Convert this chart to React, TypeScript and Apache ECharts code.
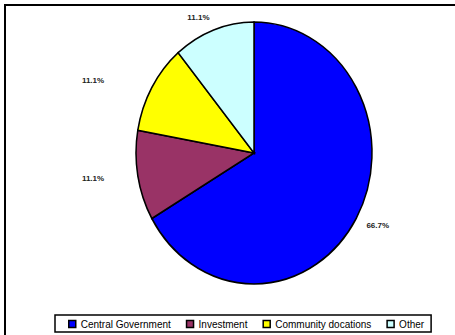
import React, { useEffect, useRef } from "react";
import * as echarts from "echarts";

const categories = ["Central Government", "Investment", "Community docations", "Other"];
const values = [6, 1, 1, 1];
const colors = ["#0000FF", "#993366", "#FFFF00", "#CCFFFF"];

const total = values.reduce((a, b) => a + b, 0);
const pctLabel = (v: number) => ((v / total) * 100).toFixed(1) + "%";

// layout of the (elliptical) pie
const CX = 254;
const CY = 153;
const RX = 118;
const RY = 131;
const LABEL_K = 1.1;
const SIDE_COLUMN_K = 1.27;

export default function App() {
  const ref = useRef<HTMLDivElement>(null);

  useEffect(() => {
    if (!ref.current) return;
    const chart = echarts.init(ref.current, undefined, { renderer: "svg" });

    const series = categories.map((name, idx) => ({
      type: "custom",
      name,
      coordinateSystem: "none",
      data: [[idx, values[idx]]],
      itemStyle: { color: colors[idx], borderColor: "#000", borderWidth: 1.5 },
      renderItem: (params: any, api: any) => {
        const i = api.value(0);
        let before = 0;
        for (let k = 0; k < i; k++) before += values[k];
        const f0 = before / total;
        const f1 = (before + values[i]) / total;
        const a0 = -Math.PI / 2 + f0 * Math.PI * 2;
        const a1 = -Math.PI / 2 + f1 * Math.PI * 2;
        const mid = ((f0 + f1) / 2) * Math.PI * 2;
        const s = Math.sin(mid);
        const c = Math.cos(mid);
        let lx = CX + RX * LABEL_K * s;
        const ly = CY - RY * LABEL_K * c;
        if (s < -0.5) lx = CX - RX * SIDE_COLUMN_K;
        const align = s > 0.2 ? "left" : s < -0.2 ? "right" : "center";
        return {
          type: "group",
          children: [
            {
              type: "sector",
              x: CX,
              y: CY,
              scaleX: 1,
              scaleY: RY / RX,
              shape: { cx: 0, cy: 0, r: RX, r0: 0, startAngle: a0, endAngle: a1, clockwise: true },
              style: { fill: colors[i], stroke: "#000", lineWidth: 1.5, strokeNoScale: true },
            },
            {
              type: "text",
              x: lx,
              y: ly,
              style: {
                text: pctLabel(values[i]),
                fill: "#222",
                fontFamily: "Arial",
                fontWeight: "bold",
                fontSize: 8,
                align,
                verticalAlign: "middle",
              },
            },
          ],
        };
      },
    }));

    chart.setOption({
      animation: false,
      color: colors,
      graphic: [
        {
          type: "rect",
          silent: true,
          z: -10,
          shape: { x: 5, y: 5, width: 480, height: 360 },
          style: { fill: "none", stroke: "#000", lineWidth: 2 },
        },
      ],
      legend: {
        left: 55,
        top: 315,
        orient: "horizontal",
        data: categories,
        icon: "rect",
        itemWidth: 7,
        itemHeight: 7,
        itemGap: 15,
        padding: [4, 7, 3, 13],
        borderColor: "#000",
        borderWidth: 1.5,
        borderRadius: 0,
        selectedMode: false,
        itemStyle: { borderColor: "#000", borderWidth: 1.5 },
        textStyle: { fontFamily: "Arial", fontSize: 10, color: "#000" },
      },
      series,
    } as any);

    return () => chart.dispose();
  }, []);

  return (
    <div
      ref={ref}
      style={{ position: "absolute", left: 0, top: 0, width: 455, height: 335, background: "#fff" }}
    />
  );
}
